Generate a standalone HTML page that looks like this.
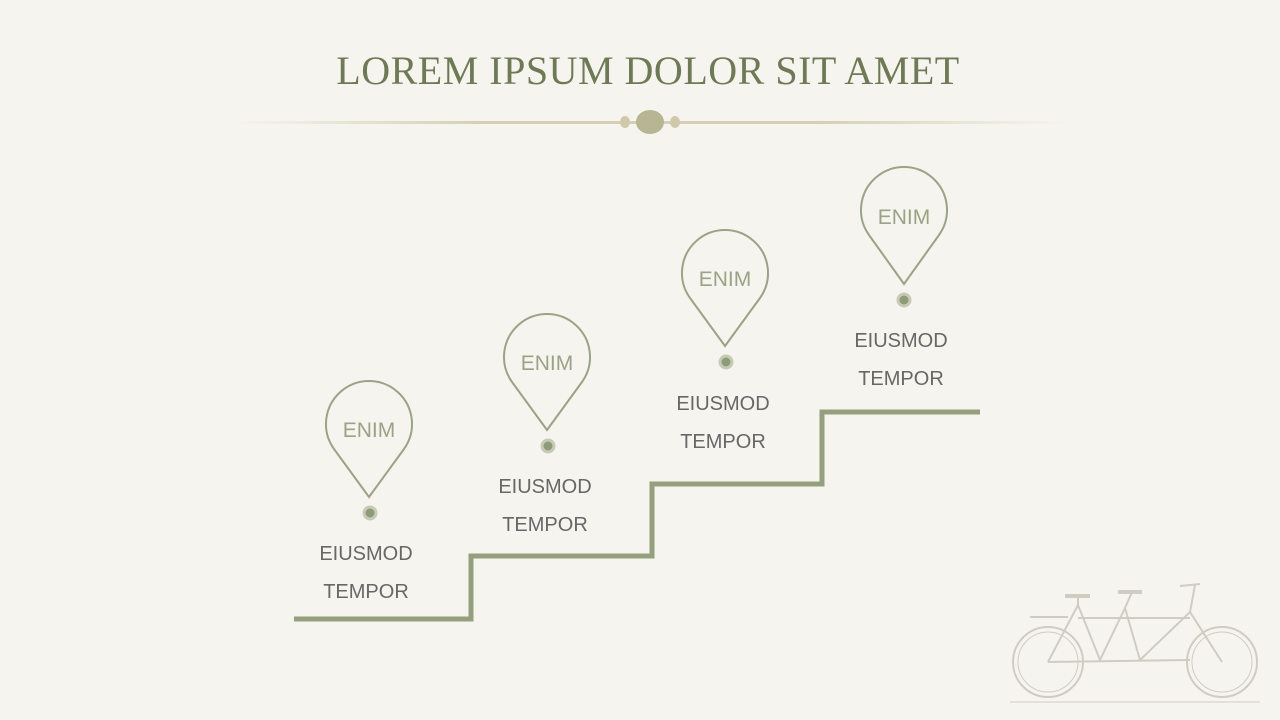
<!DOCTYPE html>
<html><head><style>
body{margin:0;width:1280px;height:720px;background:#f6f4ee;overflow:hidden;font-family:"Liberation Sans",sans-serif}
</style></head><body>
<svg width="1280" height="720" style="position:absolute;left:0;top:0">
<defs><linearGradient id="g" x1="0" x2="1"><stop offset="0" stop-color="#d8d2bd" stop-opacity="0"/><stop offset=".3" stop-color="#d6cfb4"/><stop offset=".7" stop-color="#d6cfb4"/><stop offset="1" stop-color="#d8d2bd" stop-opacity="0"/></linearGradient></defs>
<text x="648" y="84" text-anchor="middle" font-family="Liberation Serif, serif" font-size="40" fill="#6e7a56" letter-spacing="0.5">LOREM IPSUM DOLOR SIT AMET</text>
<rect x="230" y="121" width="840" height="3" fill="url(#g)"/>
<ellipse cx="625" cy="122" rx="5" ry="6" fill="#cfc8ab"/>
<ellipse cx="675" cy="122" rx="5" ry="6" fill="#cfc8ab"/>
<ellipse cx="650" cy="122" rx="14" ry="12" fill="#b8b593"/>
<polyline points="294,619 471,619 471,556 652,556 652,484 822,484 822,412 980,412" fill="none" stroke="#949f7e" stroke-width="5"/>
<g fill="none" stroke="#9ba386" stroke-width="2">
<path d="M369,497 L334,449 A43,43 0 1 1 404,449 Z"/>
<path d="M547,430 L512,382 A43,43 0 1 1 582,382 Z"/>
<path d="M725,346 L690,298 A43,43 0 1 1 760,298 Z"/>
<path d="M904,284 L869,235 A43,43 0 1 1 939,235 Z"/>
</g>
<g font-size="21" fill="#9ba386" text-anchor="middle">
<text x="369" y="437">ENIM</text><text x="547" y="370">ENIM</text><text x="725" y="286">ENIM</text><text x="904" y="224">ENIM</text>
</g>
<g fill="#8f9b78" stroke="#c6cbb6" stroke-width="3">
<circle cx="370" cy="513" r="6"/><circle cx="548" cy="446" r="6"/><circle cx="726" cy="362" r="6"/><circle cx="904" cy="300" r="6"/>
</g>
<g font-size="20" fill="#676767" text-anchor="middle">
<text x="366" y="560">EIUSMOD</text><text x="366" y="598">TEMPOR</text>
<text x="545" y="493">EIUSMOD</text><text x="545" y="531">TEMPOR</text>
<text x="723" y="410">EIUSMOD</text><text x="723" y="448">TEMPOR</text>
<text x="901" y="347">EIUSMOD</text><text x="901" y="385">TEMPOR</text>
</g>
<g fill="none" stroke="#cfcdc2" stroke-width="2">
<circle cx="1048" cy="662" r="35"/><circle cx="1222" cy="662" r="35"/>
<circle cx="1048" cy="662" r="30" stroke-width="1"/><circle cx="1222" cy="662" r="30" stroke-width="1"/>
<polyline points="1048,662 1078,605 1100,660 1125,608 1140,660 1190,612 1222,662"/>
<line x1="1078" y1="618" x2="1190" y2="618"/>
<line x1="1048" y1="662" x2="1190" y2="660"/>
<line x1="1078" y1="605" x2="1078" y2="595"/><line x1="1125" y1="608" x2="1132" y2="592"/>
<line x1="1190" y1="612" x2="1195" y2="585"/>
<line x1="1065" y1="596" x2="1090" y2="596" stroke-width="4"/>
<line x1="1118" y1="592" x2="1142" y2="592" stroke-width="4"/>
<line x1="1180" y1="586" x2="1200" y2="584"/>
<line x1="1030" y1="617" x2="1068" y2="617"/>
<line x1="1010" y1="702" x2="1260" y2="702" stroke-width="1"/>
</g>
</svg>
</body></html>
